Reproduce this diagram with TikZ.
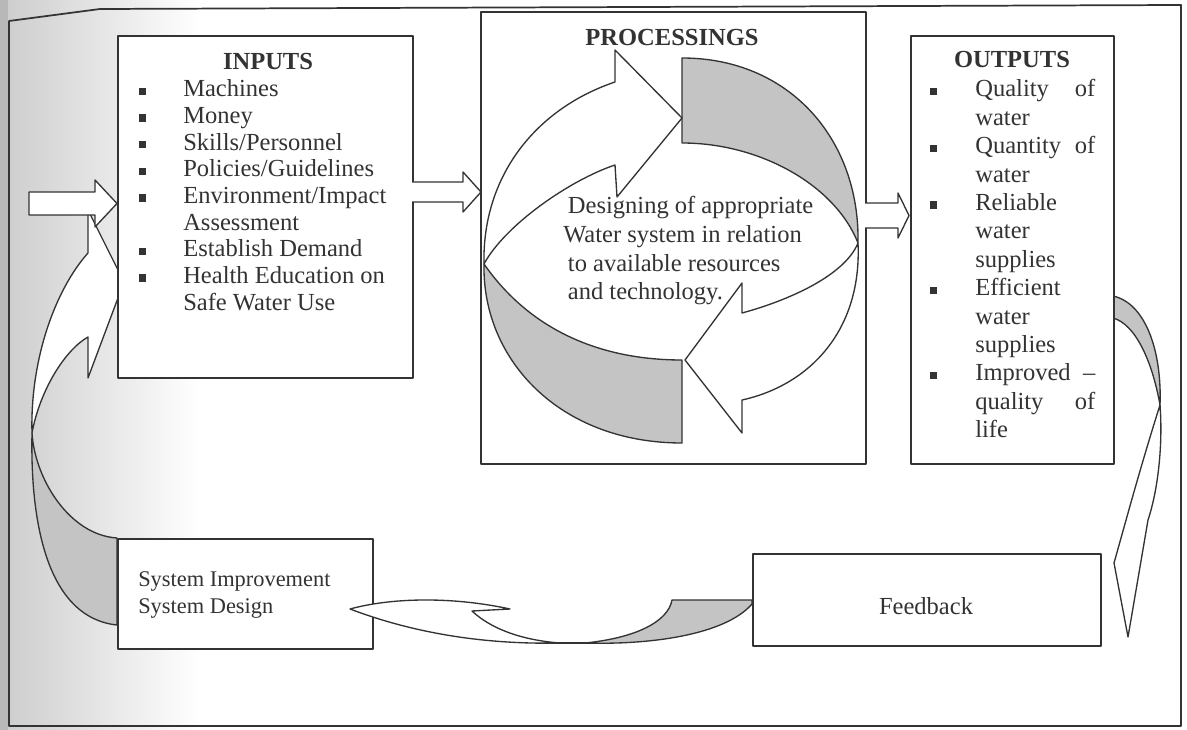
\documentclass[tikz,border=0pt]{standalone}
\usepackage{fontspec}
\setmainfont{Liberation Serif}
\definecolor{ink}{gray}{0.2}
\definecolor{band}{gray}{0.77}
\newcommand{\blt}{\raisebox{1.5pt}{\rule{5.2pt}{5.4pt}}}
\begin{document}
\begin{tikzpicture}[x=0.75pt,y=-0.75pt,line join=round,
  box/.style={draw=ink,line width=1.3pt,fill=white,inner sep=0pt,anchor=north west},
  arrowshape/.style={draw=ink,line width=1pt,fill=white},
  bandshape/.style={draw=ink,line width=1pt,fill=band},
  body/.style={text=ink,inner sep=0pt,font=\fontsize{18.4pt}{21.5pt}\selectfont},
  head/.style={text=ink,inner sep=0pt,font=\fontsize{18.4pt}{21.5pt}\selectfont\bfseries},
]
\useasboundingbox (0,0) rectangle (1187,730);
% background (scan shading at the left)
\fill[white] (0,0) rectangle (1187,730);
\shade[left color=black!20,right color=white] (0,0) rectangle (200,730);
\fill[black!28] (0,0) rectangle (8,730);
% outer frame
\draw[draw=ink,line width=1.3pt] (9,726) -- (9,21) -- (100,9) -- (1181,5) -- (1181,726) -- cycle;

% left curved arrow (system improvement -> inputs)
\draw[bandshape] (32,433) .. controls (30,530) and (50,618) .. (117,625) -- (117,538)
  .. controls (70,535) and (35,480) .. (32,433) -- cycle;
\draw[arrowshape] (32,433) .. controls (30,360) and (55,290) .. (88,253) -- (88,210) -- (124,282)
  -- (88,378) -- (88,337) .. controls (65,350) and (40,390) .. (32,433) -- cycle;

% small block arrow into inputs
\draw[arrowshape] (29,192) -- (95,192) -- (95,180) -- (117,203.5) -- (95,227) -- (95,215) -- (29,215) -- cycle;

% right curved arrow gray part (outputs -> feedback)
\draw[bandshape] (1113,296) .. controls (1145,303) and (1162,350) .. (1160,405)
  .. controls (1152,360) and (1135,324) .. (1113,318) -- cycle;
% bottom arrow gray part (feedback -> system improvement)
\draw[bandshape] (672,600) -- (752,600) -- (752,604) .. controls (725,635) and (650,645) .. (585,643)
  .. controls (635,638) and (668,622) .. (672,600) -- cycle;

% boxes
\node[box,minimum width=295*0.75pt,minimum height=342*0.75pt] (inputs) at (117,35) {};
\node[box,minimum width=385*0.75pt,minimum height=452*0.75pt] (proc) at (480,11) {};
\node[box,minimum width=203*0.75pt,minimum height=428*0.75pt] (outputs) at (910,35) {};
\node[box,minimum width=348*0.75pt,minimum height=92*0.75pt] (feedback) at (752,553) {};
\node[box,minimum width=255*0.75pt,minimum height=110*0.75pt] (sysbox) at (117,538) {};

% processing cycle
\draw[bandshape] (682,58) .. controls (790,58) and (860,140) .. (858,243)
  .. controls (835,185) and (760,143) .. (682,143) -- cycle;
\draw[bandshape] (682,443) .. controls (560,443) and (482,360) .. (484,264)
  .. controls (530,330) and (600,360) .. (682,360) -- cycle;
\draw[arrowshape] (484,264) .. controls (482,177) and (535,109) .. (615,82) -- (615,50) -- (682,118)
  -- (617,197) -- (615,165) .. controls (570,180) and (505,225) .. (484,264) -- cycle;
\draw[arrowshape] (858,243) .. controls (862,330) and (810,385) .. (742,400) -- (742,433) -- (685,360)
  -- (742,283) -- (742,313) .. controls (790,300) and (845,275) .. (858,243) -- cycle;

% straight block arrows
\draw[arrowshape] (412,182) -- (463,182) -- (463,172) -- (481,192) -- (463,212) -- (463,202) -- (412,202);
\draw[arrowshape] (865,203) -- (898,203) -- (898,193) -- (909,215.5) -- (898,238) -- (898,228) -- (865,228);

% right curved arrow white part
\draw[arrowshape] (1160,405) .. controls (1163,445) and (1158,490) .. (1148,520) -- (1128,637) -- (1114,563)
  -- (1128,513) .. controls (1140,470) and (1152,430) .. (1160,405) -- cycle;
% bottom arrow white part
\draw[arrowshape] (350,609) .. controls (390,598) and (450,596) .. (510,609) -- (472,611)
  .. controls (490,628) and (520,640) .. (560,643) .. controls (470,645) and (400,628) .. (350,609) -- cycle;
\draw[ink,line width=2pt] (555,643) -- (590,643);

% texts
\node[head,anchor=base] (intitle) at (268,70) {INPUTS};
\node[body,font=\fontsize{18.4pt}{20pt}\selectfont,anchor=base west] (inlist) at (139,97) {\begin{tabular}[t]{@{}p{33pt}@{}l@{}}
\blt & Machines\\
\blt & Money\\
\blt & Skills/Personnel\\
\blt & Policies/Guidelines\\
\blt & Environment/Impact\\
 & Assessment\\
\blt & Establish Demand\\
\blt & Health Education on\\
 & Safe Water Use
\end{tabular}};
\node[head,anchor=base] (proctitle) at (672,46) {PROCESSINGS};
\node[body,anchor=base west] (proctext) at (563,214) {\begin{tabular}[t]{@{}l@{}}
\hspace*{3.5pt}Designing of appropriate\\
Water system in relation\\
\hspace*{3.5pt}to available resources\\
\hspace*{3.5pt}and technology.
\end{tabular}};
\node[head,anchor=base] (outtitle) at (1012,68) {OUTPUTS};
\node[body,font=\fontsize{18.4pt}{21.3pt}\selectfont,anchor=base west] (outlist) at (930,97) {\begin{tabular}[t]{@{}p{33.8pt}@{}p{90pt}@{}}
\blt & Quality\hfill of\\
 & water\\
\blt & Quantity\hfill of\\
 & water\\
\blt & Reliable\\
 & water\\
 & supplies\\
\blt & Efficient\\
 & water\\
 & supplies\\
\blt & Improved\hfill \textendash\\
 & quality\hfill of\\
 & life
\end{tabular}};
\node[body,anchor=base] (fbtext) at (926,614) {Feedback};
\node[body,font=\fontsize{16.8pt}{20.25pt}\selectfont,anchor=base west] (systext) at (138,586) {\begin{tabular}[t]{@{}l@{}}
System Improvement\\
System Design
\end{tabular}};
\end{tikzpicture}
\end{document}
